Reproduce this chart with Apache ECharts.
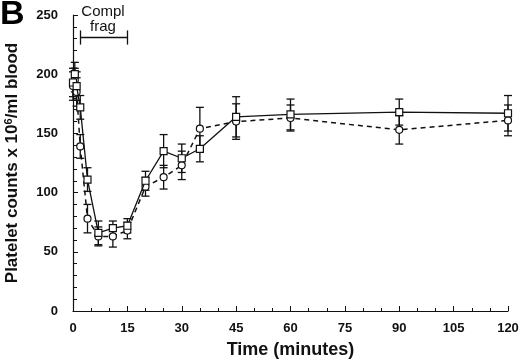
<!DOCTYPE html>
<html>
<head>
<meta charset="utf-8">
<script src="https://cdn.jsdelivr.net/npm/echarts@6/dist/echarts.min.js"></script>
<style>
  html, body { margin: 0; padding: 0; background: #fff; }
  #chart { width: 520px; height: 360px; }
</style>
</head>
<body>
<div id="chart"></div>
<script>
// time points (minutes)
const times = [0, 0.5, 1, 2, 4, 7, 11, 15, 20, 25, 30, 35, 45, 60, 90, 120]
// squares, solid line
const squareVals = [193, 200, 190, 172, 111, 66, 70, 72, 110, 135, 129, 137, 164, 166, 168, 167]
const squareErr = [12, 10, 12, 10, 10, 10, 6, 6, 8, 14, 12, 11, 17, 13, 11, 15]
// circles, dashed line
const circleVals = [190, 195, 185, 139, 78, 63, 63, 68, 105, 113, 123, 154, 160, 163, 153, 161]
const circleErr = [12, 10, 12, 10, 12, 8, 9, 7, 8, 10, 12, 18, 15, 11, 12, 13]
// complement fragment bracket (start, end in minutes)
const bracket = [2, 15]

const font = '"Liberation Sans", Arial, Helvetica, sans-serif'
const chart = echarts.init(document.getElementById('chart'))

const pairs = (vals) => times.map((t, i) => [t, vals[i]])
const errData = (vals, errs) => times.map((t, i) => [t, vals[i] - errs[i], vals[i] + errs[i]])

const errorBars = (name, data) => ({
  name,
  type: 'custom',
  data,
  z: 1,
  renderItem: (params, api) => {
    const lo = api.coord([api.value(0), api.value(1)])
    const hi = api.coord([api.value(0), api.value(2)])
    const cap = 4
    const style = { stroke: '#111', lineWidth: 1.3 }
    return {
      type: 'group',
      children: [
        { type: 'line', shape: { x1: lo[0], y1: lo[1], x2: hi[0], y2: hi[1] }, style },
        { type: 'line', shape: { x1: lo[0] - cap, y1: lo[1], x2: lo[0] + cap, y2: lo[1] }, style },
        { type: 'line', shape: { x1: hi[0] - cap, y1: hi[1], x2: hi[0] + cap, y2: hi[1] }, style }
      ]
    }
  }
})

const option = {
  animation: false,
  grid: { left: 73, right: 12, top: 15, bottom: 49, outerBoundsMode: 'none' },
  xAxis: {
    type: 'value',
    min: 0, max: 120, interval: 15,
    name: 'Time (minutes)',
    nameLocation: 'middle',
    nameGap: 30,
    nameTextStyle: { fontFamily: font, fontWeight: 'bold', fontSize: 18, color: '#111' },
    axisLine: { lineStyle: { color: '#111', width: 1.2 } },
    axisTick: { inside: true, length: 5, lineStyle: { color: '#111' } },
    minorTick: { show: true, splitNumber: 3, length: 3, lineStyle: { color: '#111' } },
    splitLine: { show: false },
    axisLabel: { fontFamily: font, fontWeight: 'bold', fontSize: 13, color: '#111', margin: 11 }
  },
  yAxis: {
    type: 'value',
    min: 0, max: 250, interval: 50,
    name: 'Platelet counts x 10{sup|6}/ml blood',
    nameLocation: 'middle',
    nameGap: 51,
    nameTextStyle: {
      fontFamily: font, fontWeight: 'bold', fontSize: 17, color: '#111',
      rich: { sup: { fontFamily: font, fontWeight: 'bold', fontSize: 11, color: '#111', verticalAlign: 'top', padding: [0, 0, 8, 0] } }
    },
    axisLine: { show: true, lineStyle: { color: '#111', width: 1.2 } },
    axisTick: { show: true, inside: true, length: 5, lineStyle: { color: '#111' } },
    minorTick: { show: true, splitNumber: 5, length: 4, lineStyle: { color: '#111' } },
    splitLine: { show: false },
    axisLabel: { fontFamily: font, fontWeight: 'bold', fontSize: 13, color: '#111', margin: 15 }
  },
  series: [
    errorBars('sqErr', errData(squareVals, squareErr)),
    errorBars('ciErr', errData(circleVals, circleErr)),
    {
      name: 'Squares',
      type: 'line',
      data: pairs(squareVals),
      symbol: 'rect',
      symbolSize: 7,
      itemStyle: { color: '#fff', borderColor: '#111', borderWidth: 1.2 },
      lineStyle: { color: '#111', width: 1.3 },
      z: 3,
      markLine: {
        silent: true,
        symbol: 'none',
        label: { show: false },
        lineStyle: { color: '#111', width: 1.3, type: 'solid' },
        data: [
          [{ coord: [bracket[0], 231] }, { coord: [bracket[1], 231] }],
          [{ coord: [bracket[0], 237] }, { coord: [bracket[0], 225] }],
          [{ coord: [bracket[1], 237] }, { coord: [bracket[1], 225] }]
        ]
      }
    },
    {
      name: 'Circles',
      type: 'line',
      data: pairs(circleVals),
      symbol: 'circle',
      symbolSize: 7,
      itemStyle: { color: '#fff', borderColor: '#111', borderWidth: 1.2 },
      lineStyle: { color: '#111', width: 1.5, type: [5, 4] },
      z: 2
    }
  ],
  graphic: [
    { type: 'text', left: 0, top: -2, style: { text: 'B', fontFamily: font, fontWeight: 'bold', fontSize: 34, fill: '#000' } },
    { type: 'text', x: 103, y: 4, style: { text: 'Compl', align: 'center', fontFamily: font, fontSize: 15, fill: '#111' } },
    { type: 'text', x: 103, y: 19, style: { text: 'frag', align: 'center', fontFamily: font, fontSize: 15, fill: '#111' } }
  ]
}

chart.setOption(option)
</script>
</body>
</html>
